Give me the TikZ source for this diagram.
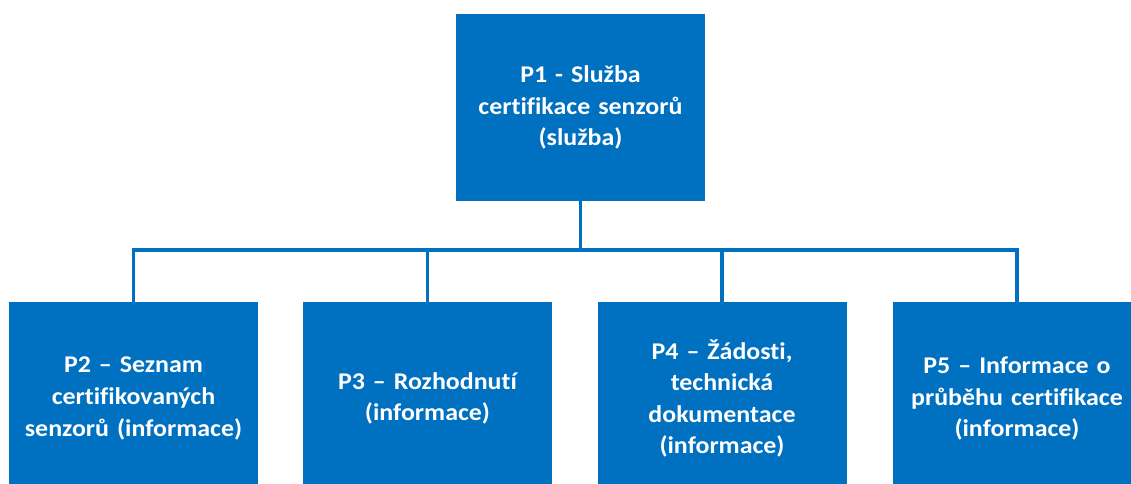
\documentclass[tikz,border=0pt]{standalone}
\usepackage{fontspec}
\setmainfont{Carlito}[FakeStretch=1.08, WordSpace=0.8, Ligatures=NoCommon]
\definecolor{orgblue}{HTML}{0070C0}
\begin{document}
\begin{tikzpicture}[x=1pt,y=1pt,
  unit/.style={fill=orgblue, draw=none, minimum width=249pt, minimum height=187pt,
    inner sep=0pt, text=white, align=center, text width=240pt,
    font=\fontsize{24}{31.6}\selectfont\bfseries},
  leaf/.style={unit, minimum height=193pt},
  link/.style={draw=orgblue, line width=3.6pt}]
\useasboundingbox (0,0) rectangle (1131,-483);
\clip (0,0) rectangle (1131,-483);

\node[unit] (p1) at (580.5,-107.5) {P1 - Služba\\certifikace senzorů\\(služba)};
\node[leaf] (p2) at (133.5,-398.5) {P2 – Seznam\\certifikovaných\\senzorů (informace)};
\node[leaf] (p3) at (427.5,-398.5) {P3 – Rozhodnutí\\(informace)};
\node[leaf] (p4) at (722,-398.5) {P4 – Žádosti,\\technická\\dokumentace\\(informace)};
\node[leaf] (p5) at (1017,-398.5) {P5 – Informace o\\průběhu certifikace\\(informace)};

\coordinate (bus) at (580.5,-250);
\draw[link] (p1.south) -- (bus);
\draw[link] (p2.north) |- (bus) -| (p5.north);
\draw[link] (p3.north) -- (p3.north |- bus);
\draw[link] (p4.north) -- (p4.north |- bus);
\end{tikzpicture}
\end{document}
